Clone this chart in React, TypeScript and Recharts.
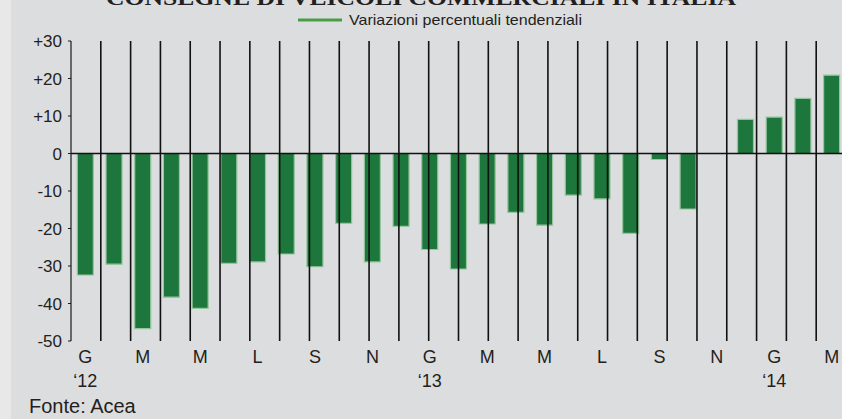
import React from "react";
import { BarChart, Bar, XAxis, YAxis, ReferenceLine } from "recharts";

const categories = [
  "2012-01", "2012-02", "2012-03", "2012-04", "2012-05", "2012-06",
  "2012-07", "2012-08", "2012-09", "2012-10", "2012-11", "2012-12",
  "2013-01", "2013-02", "2013-03", "2013-04", "2013-05", "2013-06",
  "2013-07", "2013-08", "2013-09", "2013-10", "2013-11", "2013-12",
  "2014-01", "2014-02", "2014-03",
];

const tickLabels = [
  "G", "", "M", "", "M", "", "L", "", "S", "", "N", "",
  "G", "", "M", "", "M", "", "L", "", "S", "", "N", "",
  "G", "", "M",
];

const yearLabels = [
  "‘12", "", "", "", "", "", "", "", "", "", "", "",
  "‘13", "", "", "", "", "", "", "", "", "", "", "",
  "‘14", "", "",
];

const values: (number | null)[] = [
  -32.4, -29.5, -46.7, -38.3, -41.3, -29.3, -28.9, -26.8, -30.2, -18.6, -28.9, -19.4,
  -25.6, -30.8, -18.8, -15.7, -19.1, -11.1, -12.1, -21.3, -1.6, -14.8, null, 9.1,
  9.7, 14.7, 20.9,
];

const yTicks = [30, 20, 10, 0, -10, -20, -30, -40, -50];

const monthBoundaries = [
  1, 2, 3, 4, 5, 6, 7, 8, 9, 10, 11, 12, 13, 14, 15, 16, 17, 18, 19, 20,
  21, 22, 23, 24, 25, 26,
];

const seriesName = "Variazioni percentuali tendenziali";
const titleText = "CONSEGNE DI VEICOLI COMMERCIALI IN ITALIA";
const sourceText = "Fonte: Acea";

const data = categories.map((c, i) => ({ cat: c, value: values[i] }));

const FONT = "Arial, 'Liberation Sans', Helvetica, sans-serif";
const TEXT = "#231f20";

function MonthTick(props: any) {
  const { x, y, payload } = props;
  const i = categories.indexOf(payload.value);
  const m = tickLabels[i];
  const yr = yearLabels[i];
  return (
    <g>
      {m ? (
        <text x={x} y={y} dy={22} textAnchor="middle" fontSize={18} fill={TEXT} fontFamily={FONT}>
          {m}
        </text>
      ) : null}
      {yr ? (
        <text x={x} y={y} dy={46} textAnchor="middle" fontSize={18} fill={TEXT} fontFamily={FONT}>
          {yr}
        </text>
      ) : null}
    </g>
  );
}

export default function App() {
  return (
    <div
      style={{
        position: "absolute",
        left: 0,
        top: 0,
        width: 842,
        height: 419,
        overflow: "hidden",
        background: "#e8e8e9",
      }}
    >
      <div style={{ position: "absolute", left: 11, top: 0, right: 0, bottom: 0, background: "#dcdddf" }} />
      <div style={{ position: "absolute", left: 0, top: 0 }}>
        <BarChart
          width={850}
          height={419}
          data={data}
          margin={{ top: 41, right: 4, bottom: 0, left: 0 }}
          barCategoryGap="22%"
        >
          <XAxis
            dataKey="cat"
            height={78}
            axisLine={false}
            tickLine={false}
            tickSize={0}
            tickMargin={0}
            interval={0}
            tick={<MonthTick />}
          />
          <XAxis xAxisId="grid" type="number" domain={[0, 27]} hide allowDataOverflow />
          <YAxis
            width={71}
            domain={[-50, 30]}
            ticks={yTicks}
            interval={0}
            axisLine={{ stroke: "#1a1a1a", strokeWidth: 1.2 }}
            tickLine={{ stroke: "#1a1a1a", strokeWidth: 1 }}
            tickSize={3}
            tickMargin={6}
            tick={{ fontSize: 17, fill: TEXT, fontFamily: FONT }}
            tickFormatter={(v: number) => (v > 0 ? `+${v}` : `${v}`)}
          />
          {monthBoundaries.map((b) => (
            <ReferenceLine key={b} xAxisId="grid" x={b} stroke="#111111" strokeWidth={1.6} />
          ))}
          <Bar
            dataKey="value"
            name={seriesName}
            fill="#1d763b"
            stroke="#93c59e"
            strokeWidth={1.2}
            isAnimationActive={false}
          />
          <ReferenceLine y={0} stroke="#111111" strokeWidth={1.5} />
        </BarChart>
      </div>
      <svg
        width={842}
        height={419}
        style={{ position: "absolute", left: 0, top: 0, pointerEvents: "none" }}
      >
        <text
          x={421}
          y={5}
          textAnchor="middle"
          fontSize={22}
          fontWeight="bold"
          fontFamily="'Liberation Serif', 'Times New Roman', serif"
          fill={TEXT}
          textLength={630}
          lengthAdjust="spacingAndGlyphs"
        >
          {titleText}
        </text>
        <line x1={298} y1={20} x2={342} y2={20} stroke="#4a9d47" strokeWidth={3} />
        <text
          x={349}
          y={25}
          fontSize={15}
          fontFamily={FONT}
          fill={TEXT}
          textLength={233}
          lengthAdjust="spacingAndGlyphs"
        >
          {seriesName}
        </text>
        <text x={29} y={413} fontSize={20} fontFamily={FONT} fill={TEXT}>
          {sourceText}
        </text>
      </svg>
    </div>
  );
}
